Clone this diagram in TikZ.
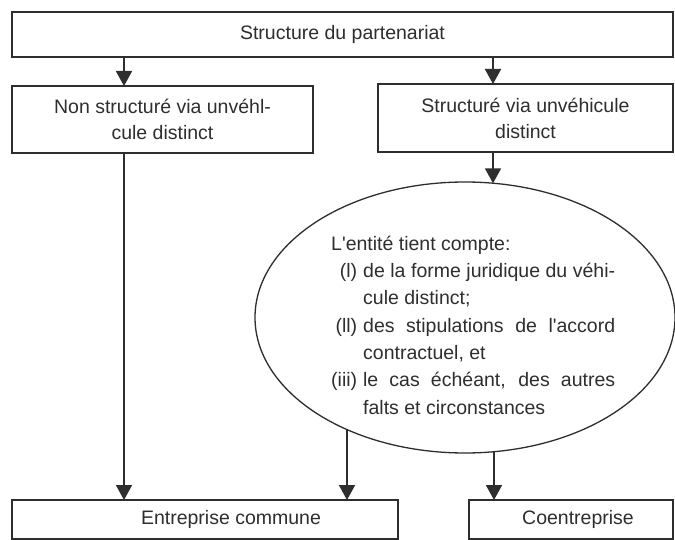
\documentclass[tikz,border=0pt]{standalone}
\usepackage{fontspec}
\setmainfont{Liberation Sans}
\usetikzlibrary{arrows.meta,shapes.geometric}
\definecolor{ink}{HTML}{2E2E2E}
\newcommand\sq{\XeTeXglyph\XeTeXcharglyph"27\relax}
\begin{document}
\begin{tikzpicture}[x=1pt,y=-1pt,
  box/.style={draw=ink, line width=1.3pt, rectangle, inner sep=0pt, outer sep=0pt, align=center, text=ink, font=\fontsize{19.5}{26}\selectfont},
  conn/.style={draw=ink, line width=1.7pt, -{Triangle[width=16pt,length=15pt]}},
  oval/.style={ellipse, draw=ink, line width=1.3pt, inner sep=0pt, outer sep=0pt},
  crittxt/.style={anchor=north west, inner sep=0pt, text=ink, font=\fontsize{19.5}{27.3}\selectfont}
]
\useasboundingbox (0,0) rectangle (675,540);
\fill[white] (0,0) rectangle (675,540);
\clip (0,0) rectangle (675,540);

\node[box, minimum width=661pt, minimum height=45pt] (top) at (342.5,34.5) {Structure du partenariat};
\node[box, minimum width=301pt, minimum height=67pt] (ns) at (162.5,119.5) {Non structuré via unvéhl-\\cule distinct};
\node[box, minimum width=295pt, minimum height=68pt] (st) at (525.5,118) {Structuré via unvéhicule\\distinct};
\node[oval, minimum width=420pt, minimum height=271pt] (crit) at (465,317.5) {};
\node[crittxt] (crittext) at (331,231) {\begin{tabular}{@{}r@{\hspace{6pt}}l@{}}
\multicolumn{2}{@{}l@{}}{L\sq entité tient compte:}\\
(l) & \makebox[252pt][s]{de la forme juridique du véhi-}\\
 & cule distinct;\\
(ll) & \makebox[252pt][s]{des stipulations de l\sq accord}\\
 & contractuel, et\\
(iii) & \makebox[252pt][s]{le cas échéant, des autres}\\
 & falts et circonstances
\end{tabular}};
\node[box, minimum width=386pt, minimum height=39pt] (ec) at (205,519.5) {\hspace*{52pt}Entreprise commune};
\node[box, minimum width=204pt, minimum height=39pt] (co) at (571,519.5) {\hspace*{14pt}Coentreprise};

\coordinate (a1) at (124,0);
\coordinate (t1) at (493,183.3);
\coordinate (e1) at (347,429.5);
\coordinate (e2) at (494,451.7);

\draw[conn] (top.south -| a1) -- (ns.north -| a1);
\draw[conn] (top.south -| t1) -- (st.north -| t1);
\draw[conn] (st.south -| t1) -- (t1);
\draw[conn] (ns.south -| a1) -- (ec.north -| a1);
\draw[conn] (e1) -- (ec.north -| e1);
\draw[conn] (e2) -- (co.north -| e2);
\end{tikzpicture}
\end{document}
